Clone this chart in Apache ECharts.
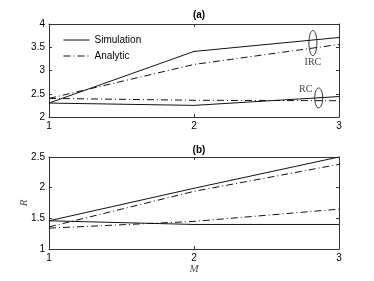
<!DOCTYPE html>
<html><head><meta charset="utf-8">
<script src="https://cdn.jsdelivr.net/npm/echarts@6/dist/echarts.min.js"></script>
<style>html,body{margin:0;padding:0;background:#fff}#c{width:374px;height:281px}</style>
</head><body><div id="c"></div>
<script>
const M = [1, 2, 3];
const xTicks = [1, 2, 3];
const yTicksA = [2, 2.5, 3, 3.5, 4];
const yTicksB = [1, 1.5, 2, 2.5];
// panel (a)
const ircSim = [2.30, 3.41, 3.71];
const ircAna = [2.40, 3.13, 3.56];
const rcSim = [2.30, 2.25, 2.44];
const rcAna = [2.40, 2.36, 2.35];
// panel (b)
const bSimUp = [1.46, 1.99, 2.50];
const bAnaUp = [1.36, 1.94, 2.38];
const bSimLo = [1.46, 1.40, 1.40];
const bAnaLo = [1.34, 1.45, 1.65];

const pairs = a => M.map((m, i) => [m, a[i]]);
const dashDot = [7, 3, 1, 3];
const font = 'Liberation Sans';
const axCol = '#333';

function xAx(grid, showLabels, pos) {
  return {
    type: 'value', gridIndex: grid, min: 1, max: 3, interval: 1, position: pos,
    axisLine: { show: true, onZero: false, lineStyle: { color: axCol, width: 1 } },
    axisTick: { show: true, inside: true, length: 3, lineStyle: { color: axCol } },
    axisLabel: { show: showLabels, color: '#000', fontFamily: font, fontSize: 10, margin: 4 },
    splitLine: { show: false }
  };
}
function yAx(grid, min, max, showLabels, pos) {
  return {
    type: 'value', gridIndex: grid, min: min, max: max, interval: 0.5, position: pos,
    axisLine: { show: true, onZero: false, lineStyle: { color: axCol, width: 1 } },
    axisTick: { show: true, inside: true, length: 3, lineStyle: { color: axCol } },
    axisLabel: { show: showLabels, color: '#000', fontFamily: font, fontSize: 10, margin: 4 },
    splitLine: { show: false }
  };
}
function ser(name, xi, yi, data, dashed) {
  return {
    name: name, type: 'line', xAxisIndex: xi, yAxisIndex: yi, data: pairs(data),
    symbol: 'none', showSymbol: false, animation: false,
    itemStyle: { color: '#111' },
    lineStyle: { color: '#111', width: 1, type: dashed ? dashDot : 'solid' }
  };
}

const chart = echarts.init(document.getElementById('c'));
const xa = [xAx(0, true, 'bottom'), xAx(0, false, 'top'), xAx(1, true, 'bottom'), xAx(1, false, 'top')];
xa[2].name = 'M';
xa[2].nameLocation = 'middle';
xa[2].nameGap = 15;
xa[2].nameTextStyle = { fontFamily: 'Liberation Serif', fontStyle: 'italic', fontSize: 11, color: '#555' };
const ya = [yAx(0, 2, 4, true, 'left'), yAx(0, 2, 4, false, 'right'), yAx(1, 1, 2.5, true, 'left'), yAx(1, 1, 2.5, false, 'right')];
ya[2].name = 'R';
ya[2].nameLocation = 'middle';
ya[2].nameGap = 19;
ya[2].nameMoveOverlap = false;
ya[2].nameTextStyle = { fontFamily: 'Liberation Serif', fontStyle: 'italic', fontSize: 11, color: '#555' };

chart.setOption({
  animation: false,
  title: [
    { text: '(a)', left: 194, top: 5, textAlign: 'center', textStyle: { fontFamily: font, fontSize: 10, fontWeight: 'bold', color: '#000' } },
    { text: '(b)', left: 194, top: 140, textAlign: 'center', textStyle: { fontFamily: font, fontSize: 10, fontWeight: 'bold', color: '#000' } }
  ],
  grid: [
    { left: 49, top: 24, width: 290, height: 93 },
    { left: 49, top: 157, width: 290, height: 92 }
  ],
  legend: {
    data: ['Simulation', 'Analytic'], orient: 'vertical', left: 58, top: 30,
    itemWidth: 26, itemHeight: 8, itemGap: 6, selectedMode: false,
    itemStyle: { opacity: 0 },
    lineStyle: { width: 1 },
    textStyle: { fontFamily: font, fontSize: 10, color: '#000' }
  },
  xAxis: xa,
  yAxis: ya,
  series: [
    ser('Simulation', 0, 0, ircSim, false),
    ser('Analytic', 0, 0, ircAna, true),
    ser('Simulation', 0, 0, rcSim, false),
    ser('Analytic', 0, 0, rcAna, true),
    ser('Simulation', 2, 2, bSimUp, false),
    ser('Analytic', 2, 2, bAnaUp, true),
    ser('Simulation', 2, 2, bSimLo, false),
    ser('Analytic', 2, 2, bAnaLo, true)
  ]
});

// annotations (ellipses + labels) placed in data coordinates
const ann = [
  { label: 'IRC', c: [2.82, 3.59], ry: 0.27, lab: [2.82, 3.18] },
  { label: 'RC', c: [2.86, 2.41], ry: 0.215, lab: [2.77, 2.60] }
];
const g = [];
ann.forEach(a => {
  const p = chart.convertToPixel({ gridIndex: 0 }, a.c);
  const p2 = chart.convertToPixel({ gridIndex: 0 }, [a.c[0], a.c[1] + a.ry]);
  const lp = chart.convertToPixel({ gridIndex: 0 }, a.lab);
  g.push({ type: 'ellipse', shape: { cx: p[0], cy: p[1], rx: 4, ry: Math.abs(p[1] - p2[1]) },
    style: { fill: 'none', stroke: '#222', lineWidth: 0.9 } });
  g.push({ type: 'text', x: lp[0], y: lp[1], style: { text: a.label, fontFamily: 'Liberation Serif', fontSize: 10, fill: '#444', align: 'center', verticalAlign: 'middle' } });
});
chart.setOption({ graphic: g });
</script></body></html>
